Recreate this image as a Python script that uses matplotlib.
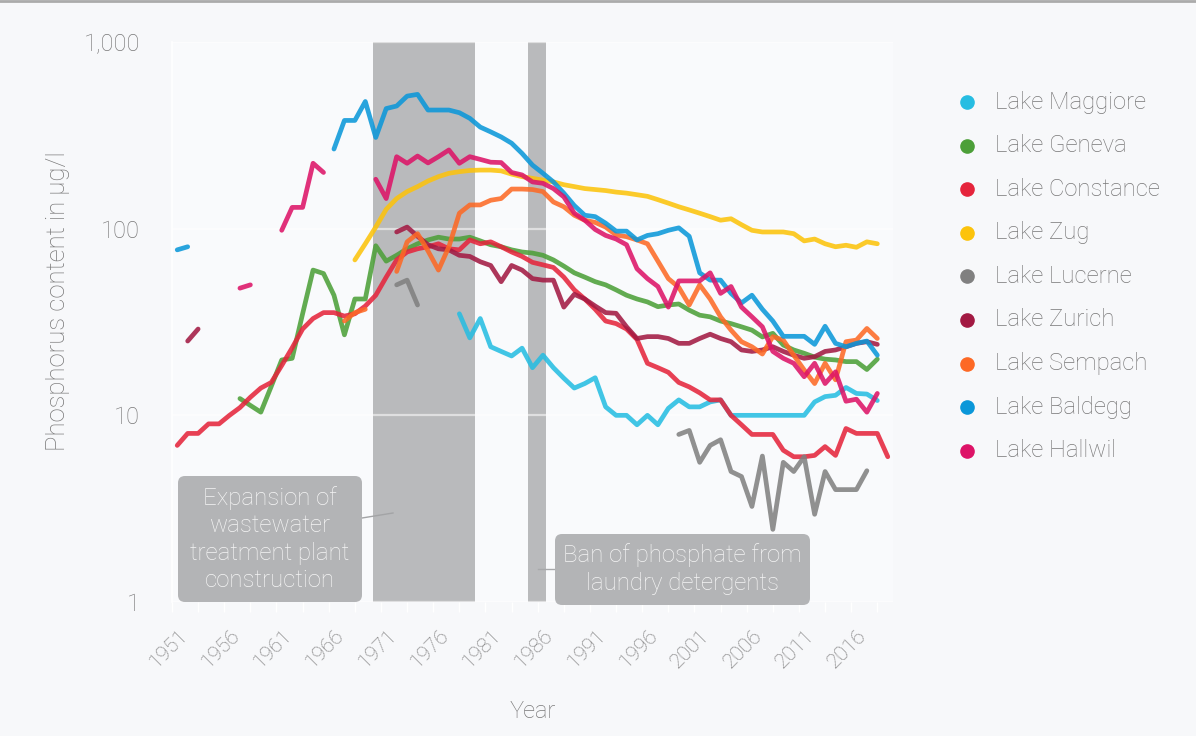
import numpy as np
import matplotlib
matplotlib.use("Agg")
import matplotlib.pyplot as plt
from matplotlib.patches import FancyBboxPatch
from matplotlib.lines import Line2D
import matplotlib.transforms as mtransforms

plt.rcParams['font.family'] = ['Roboto', 'DejaVu Sans']

# ---------------- data ----------------
lake_names = ["Lake Maggiore", "Lake Geneva", "Lake Constance", "Lake Zug", "Lake Lucerne",
              "Lake Zurich", "Lake Sempach", "Lake Baldegg", "Lake Hallwil"]
lake_colors = ["#26BDE2", "#4C9F38", "#E5243B", "#FCC30B", "#808080",
               "#A21942", "#FD6925", "#0A97D9", "#DD1367"]

maggiore_start = 1978
maggiore = [35, 26, 33, 23.3, 22, 20.8, 22.9, 18, 21, 18, 15.8, 14, 14.8, 15.9, 11.1, 10, 10,
            8.9, 10, 8.9, 10.9, 12.1, 11.1, 11.1, 11.8, 12.1, 10, 10, 10, 10, 10, 10, 10, 10,
            11.8, 12.6, 12.8, 14.1, 13.1, 13, 12]

geneva_start = 1957
geneva = [12.3, 11.3, 10.4, 14.3, 19.8, 20.2, 35, 60, 57.5, 44, 27, 42, 42, 81, 67, 72, 78,
          83, 87, 90, 88, 88, 90, 86, 82, 80, 77, 75, 74, 72, 68, 63, 58, 55, 52, 50, 47, 44,
          42, 40.5, 38.2, 39, 39.5, 36.6, 34.4, 33.7, 32, 31, 29.8, 28.6, 26.3, 27.5, 23.8,
          22.4, 21.5, 20.5, 20, 19.8, 19.4, 19.4, 17.6, 20]

constance_start = 1951
constance = [6.9, 8.0, 8.0, 9.0, 9.0, 10, 11, 12.5, 14, 15, 18.5, 23, 29, 33, 35.5, 35.5, 34,
             35, 38.5, 44, 55, 68, 75, 78, 80, 83, 78, 77, 87, 83, 85, 80, 75, 71, 66, 64, 62,
             55, 47, 42, 37, 32, 31, 29, 25.5, 19, 18, 17, 15, 14.2, 13.2, 12.1, 12.1, 10, 8.9,
             7.9, 7.9, 7.9, 6.5, 6.0, 6.0, 6.1, 6.8, 6.1, 8.5, 8.0, 8.0, 8.0, 6.0]

zug_start = 1968
zug = [68, 83, 102, 127, 145, 158, 168, 180, 190, 198, 202, 205, 206, 206, 204, 196, 190, 186,
       182, 178, 172, 168, 164, 162, 160, 157, 155, 152, 149, 143, 137, 131, 126, 121, 116,
       111, 113, 105, 98, 96, 96, 96, 94, 86, 88, 83, 80, 81.5, 79.5, 85, 83]

lucerne_start = 1972
lucerne = [50, 53, 39] + [None] * 24 + [7.9, 8.3, 5.6, 6.9, 7.4, 5.0, 4.7, 3.25, 6.05, 2.45,
                                        5.6, 5.0, 6.0, 2.95, 5.0, 4.0, 4.0, 4.0, 5.05]

zurich_start = 1952
zurich = [25, 29] + [None] * 18 + [96, 102, 91, 82, 78, 77, 72, 71, 66.5, 63.5, 52, 63.5, 60,
                                   54, 53, 53, 38, 44.5, 42, 38.5, 35.5, 35.2, 29.8, 25.8, 26.4,
                                   26.4, 25.8, 24.3, 24.3, 25.8, 27.2, 25.8, 24.8, 22.4, 22,
                                   22.4, 23.3, 22, 21, 20.2, 20.6, 22, 22.4, 23.3, 24.3, 24.8, 24]

sempach_start = 1967
sempach = [32, 35.5, 37, None, None, 59, 85, 94, 76, 60, 80, 121, 134, 134, 142, 145, 163, 163,
           162, 158, 139, 131, 118, 111, 108, 102, 92.5, 90.6, 87, 83, 67, 54, 48.5, 39, 50, 42,
           33.7, 28.6, 24.8, 23.3, 21.3, 26.4, 25.3, 21, 17.5, 14.8, 19, 15.5, 24.8, 25.3, 29.2,
           25.8]

baldegg_start = 1951
baldegg = [77, 80] + [None] * 13 + [267, 380, 380, 480, 308, 440, 454, 513, 524, 432, 432, 432,
                                    418, 390, 350, 330, 310, 287, 253, 219, 198, 178, 155, 133,
                                    118, 116, 107, 97, 97, 87, 92, 94, 98, 101, 91, 58, 53, 53,
                                    45, 40, 44, 37, 32, 26.5, 26.5, 26.5, 24, 30, 24.3, 23.3,
                                    24.3, 25, 21]

hallwil_start = 1957
hallwil = [48, 50, None, None, 98, 130, 130, 224, 200, None, None, None, None, 184, 145, 243,
           224, 245, 225, 243, 264, 224, 243, 235, 227, 226, 200, 194, 178, 175, 164, 148, 121,
           111, 99, 92, 88, 82, 61, 54, 49, 38, 52.5, 52.5, 52.5, 58, 45, 49, 38, 33.7, 29.8,
           22, 20.2, 19, 16.1, 19, 14.8, 17.1, 11.9, 12.2, 10.4, 13.1]

series_starts = [maggiore_start, geneva_start, constance_start, zug_start, lucerne_start,
                 zurich_start, sempach_start, baldegg_start, hallwil_start]
series_values = [maggiore, geneva, constance, zug, lucerne, zurich, sempach, baldegg, hallwil]

band_wastewater = (1969.74, 1979.47)
band_detergent = (1984.57, 1986.29)

x_tick_years = list(range(1951, 2017, 5))
y_ticks = [1, 10, 100, 1000]
y_tick_labels = ["1", "10", "100", "1,000"]

# ---------------- figure ----------------
W, H = 1196, 736
fig = plt.figure(figsize=(W / 100, H / 100), dpi=100)
fig.patch.set_facecolor('#f7f8fa')
ax = fig.add_axes([172 / W, 1 - 602 / H, (893 - 172) / W, (602 - 42) / H])
ax.set_facecolor('#f9fafc')

text_col = '#787878'

for color, start, vals in zip(lake_colors, series_starts, series_values):
    yrs = np.arange(start, start + len(vals))
    v = np.array([np.nan if x is None else x for x in vals], dtype=float)
    ax.plot(yrs, v, color=color, lw=3.4, alpha=0.87, solid_capstyle='round',
            solid_joinstyle='round', zorder=3)

ax.axvspan(*band_wastewater, color='#b9babc', lw=0, zorder=1)
ax.axvspan(*band_detergent, color='#b9babc', lw=0, zorder=1)

ax.set_yscale('log')
ax.set_ylim(1, 1000)
ax.set_xlim(1950.5, 2019.5)
ax.set_yticks(y_ticks)
ax.set_yticklabels(y_tick_labels)
ax.yaxis.set_minor_locator(matplotlib.ticker.NullLocator())
for yv in y_ticks:
    ax.axhline(yv, color='white', lw=1.6, alpha=0.55, zorder=2)

ax.set_xticks(x_tick_years)
ax.set_xticklabels([str(y) for y in x_tick_years], rotation=45, ha='right', va='center',
                   rotation_mode='anchor')
ax.set_xticks(np.arange(1950.5, 2020, 2.5), minor=True)
ax.tick_params(axis='x', which='major', length=0, pad=22, labelsize=15, labelcolor=text_col)
ax.tick_params(axis='x', which='minor', length=7, width=1, color='white')
ax.tick_params(axis='y', length=0, pad=23, labelsize=17, labelcolor=text_col)
for lab in ax.get_xticklabels():
    lab.set_fontweight('light')
    lab.set_transform(lab.get_transform() +
                      mtransforms.ScaledTranslation(7 / 100, 0, fig.dpi_scale_trans))
for lab in ax.get_yticklabels():
    lab.set_fontweight('light')

for s in ['top', 'right', 'bottom']:
    ax.spines[s].set_visible(False)
ax.spines['left'].set_color('white')
ax.spines['left'].set_linewidth(1.2)

fig.text(58 / W, 1 - 301 / H, "Phosphorus content in µg/l", rotation=90, ha='center',
         va='center', color=text_col, fontsize=18.5, fontweight='light')
fig.text(533 / W, 1 - 712 / H, "Year", ha='center', va='center', color=text_col,
         fontsize=17, fontweight='light')

# top border line
fig.add_artist(Line2D([0, 1], [1 - 1.3 / H] * 2, transform=fig.transFigure,
                      color='#ababab', lw=2))

# annotation boxes (pixel coords)
ident = mtransforms.IdentityTransform()
box_col = '#b3b4b6'
fig.add_artist(Line2D([362, 393], [H - 518, H - 513], transform=ident, color='#a3a4a6', lw=1))
fig.add_artist(FancyBboxPatch((178, H - 602), 184, 126, boxstyle='round,pad=0,rounding_size=7',
                              transform=ident, facecolor=box_col, edgecolor='none', zorder=5))
fig.text(270 / W, 1 - 539 / H, "Expansion of\nwastewater\ntreatment plant\nconstruction",
         ha='center', va='center', color='#f5f5f5', fontsize=17.3, linespacing=1.24,
         fontweight='light', zorder=6)

fig.add_artist(Line2D([538, 555], [H - 569, H - 569], transform=ident, color='#a8a9ab', lw=1))
fig.add_artist(FancyBboxPatch((555, H - 605), 255, 71, boxstyle='round,pad=0,rounding_size=7',
                              transform=ident, facecolor=box_col, edgecolor='none', zorder=5))
fig.text(682 / W, 1 - 569 / H, "Ban of phosphate from\nlaundry detergents",
         ha='center', va='center', color='#f5f5f5', fontsize=17.3, linespacing=1.24,
         fontweight='light', zorder=6)

# legend (manual placement)
for i, (name, color) in enumerate(zip(lake_names, lake_colors)):
    yy = 1 - (102 + 43.6 * i) / H
    fig.add_artist(Line2D([967 / W], [yy], transform=fig.transFigure, marker='o',
                          markersize=9.5, color=color, ls=''))
    fig.text(995 / W, yy, name, ha='left', va='center', color=text_col, fontsize=17.2,
             fontweight='light')

fig.savefig('out.png', dpi=100, facecolor=fig.get_facecolor())
